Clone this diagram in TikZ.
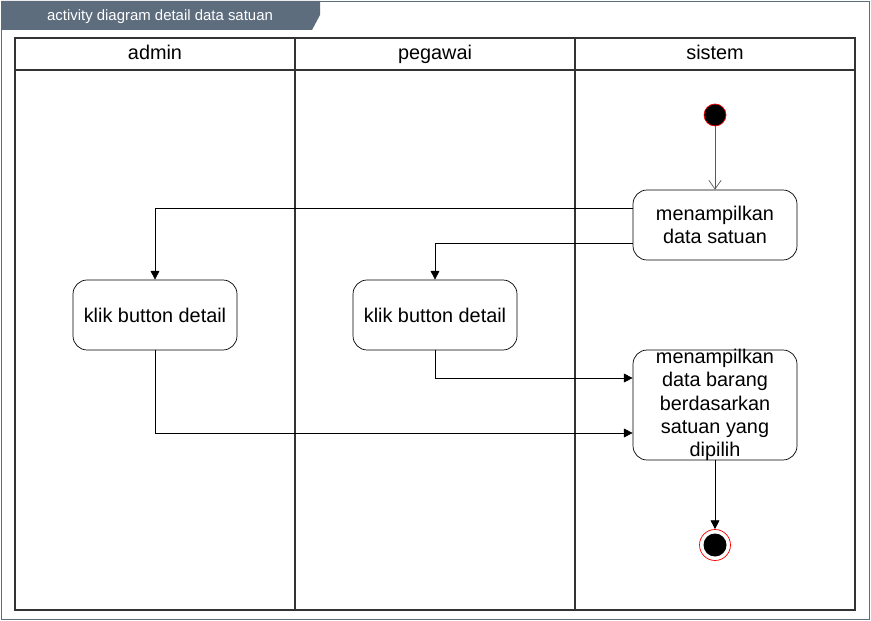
\documentclass[tikz,border=0pt]{standalone}
\usepackage{fontspec}
\setmainfont{Liberation Sans}
\usetikzlibrary{arrows.meta}
\usetikzlibrary{positioning}
\usetikzlibrary{calc}
\definecolor{tabgray}{HTML}{5D6D7E}
\definecolor{lanegray}{HTML}{333333}
\tikzset{
  act_box/.style = {draw=black, fill=white, rounded corners=8pt,
    minimum width=3.28cm, minimum height=1.4cm, align=center,
    inner sep=1pt, font=\fontsize{11.3}{13.2}\selectfont},% aktivitas
  lane_head/.style = {font=\fontsize{11.3}{13}\selectfont,
    text height=1.6ex, text depth=0.5ex},% judul lajur
  act_start/.style = {circle, fill=black, draw=red, minimum size=0.44cm,
    inner sep=0pt},% awal
  act_end/.style = {circle, draw=red, fill=white, minimum size=0.62cm,
    inner sep=0pt, path picture={\fill[black]
      (path picture bounding box.center) circle (0.23cm);}},% akhir
  flow/.style = {draw=black, -{Triangle[length=5pt,width=5pt]}}
}

\begin{document}
\begin{tikzpicture}[x=0.02cm,y=-0.02cm]
\useasboundingbox (0,0) rectangle (871,621);
% bingkai dan tab judul
\draw[tabgray] (1,1) rectangle (869,619);
\fill[tabgray] (1,1) -- (320,1) -- (320,15) -- (312,30) -- (1,30) -- cycle;
\node[white, font=\fontsize{8.5}{10}\selectfont] (judul) at (160,17)
  {activity diagram detail data satuan};

% lajur
\draw[lanegray, semithick] (15,38) rectangle (855,610);
\draw[lanegray, semithick] (15,70) -- (855,70);
\draw[lanegray, semithick] (295,38) -- (295,610);
\draw[lanegray, semithick] (575,38) -- (575,610);
\node[lane_head] (admin) at (155,54) {admin};
\node[lane_head] (pegawai) at (435,54) {pegawai};
\node[lane_head] (sistem) at (715,54) {sistem};

\node[act_start] (mulai) at (715,115) {};
\node[act_box] (tampil) at (715,225) {menampilkan\\data satuan};
\node[act_box] (klikA) at (155,315) {klik button detail};
\node[act_box] (klikB) at (435,315) {klik button detail};
\node[act_box, minimum height=2.2cm,
  label={[align=center, font=\fontsize{11.3}{13.2}\selectfont]center:
    menampilkan\\data barang\\berdasarkan\\satuan yang\\dipilih}]
  (hasil) at (715,405) {};
\node[act_end] (akhir) at (715,545) {};

\draw[-{Straight Barb[length=5pt,width=7pt]}, gray!70!black] (mulai) -- (tampil);
\draw[flow] ([yshift=0.34cm]tampil.west) -| (klikA.north);
\draw[flow] ([yshift=-0.36cm]tampil.west) -| (klikB.north);
\draw[flow] (klikB.south) |- ([yshift=0.54cm]hasil.west);
\draw[flow] (klikA.south) |- ([yshift=-0.56cm]hasil.west);
\draw[flow] (hasil) -- (akhir);
\end{tikzpicture}
\end{document}
